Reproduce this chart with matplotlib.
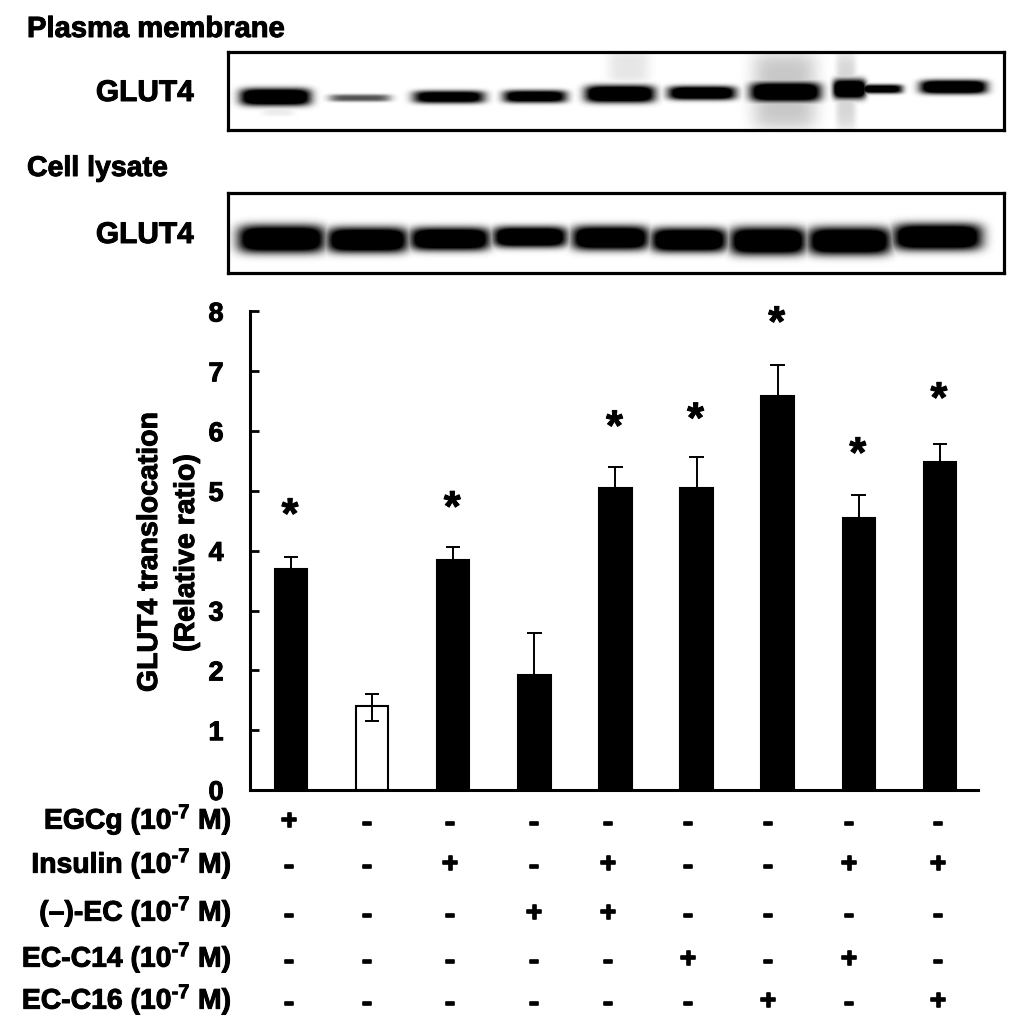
import numpy as np
import matplotlib
matplotlib.use("Agg")
import matplotlib.pyplot as plt
import matplotlib.patheffects as pe

plt.rcParams['font.family'] = ['Liberation Sans', 'DejaVu Sans']
plt.rcParams['font.weight'] = 'bold'
plt.rcParams['mathtext.fontset'] = 'custom'
plt.rcParams['mathtext.rm'] = 'Liberation Sans:bold'
plt.rcParams['mathtext.bf'] = 'Liberation Sans:bold'
plt.rcParams['mathtext.default'] = 'bf'

# ---- data ----
bar_values = [3.70, 1.40, 3.85, 1.93, 5.05, 5.05, 6.58, 4.55, 5.48]
err_top = [3.90, 1.60, 4.07, 2.62, 5.40, 5.57, 7.10, 4.93, 5.78]
err_bottom = [3.70, 1.15, 3.85, 1.93, 5.05, 5.05, 6.58, 4.55, 5.48]
bar_colors = ['black', 'white', 'black', 'black', 'black', 'black', 'black', 'black', 'black']
star_groups = [0, 2, 4, 5, 6, 7, 8]
star_values = [4.64, 4.76, 6.11, 6.24, 7.85, 5.66, 6.58]
y_ticks = [0, 1, 2, 3, 4, 5, 6, 7, 8]

treatments = ['EGCg', 'Insulin', '(–)-EC', 'EC-C14', 'EC-C16']
treatment_rows = ['+--------', '--+-+--++', '---++----', '-----+-+-', '------+-+']
treatment_row_px = [822, 865, 914, 960, 1002]
treatment_label_px = [820, 864, 912, 958, 1000]
treatment_col_px = [289, 367, 450, 534, 608, 688, 768, 849, 938]

# bands: left, right, centre y, half height, strength (pixels of the figure)
membrane_bands = [
    (240, 311, 97, 7.5, 1.0), (329, 391, 98, 3.2, 0.45), (413, 485, 97, 5.5, 0.85),
    (503, 567, 96.5, 5.5, 0.85), (585, 655, 94, 7.5, 1.0), (668, 736, 93, 6, 0.95),
    (750, 821, 92, 8.5, 1.0), (833, 866, 89, 8.5, 1.0), (860, 903, 89, 4, 0.8),
    (920, 987, 87, 6, 1.0),
]
membrane_smears = [
    (608, 650, 52, 82, 0.10), (752, 817, 52, 130, 0.22), (836, 856, 52, 130, 0.16),
    (262, 294, 100, 116, 0.08),
]
lysate_bands = [
    (238, 325, 239, 12, 1.0), (327, 408, 240, 11, 1.0), (410, 490, 239, 10, 1.0),
    (493, 567, 237, 9, 1.0), (572, 649, 238, 10.5, 1.0), (651, 727, 240, 10.5, 1.0),
    (730, 806, 241, 12, 1.0), (808, 891, 241, 12, 1.0), (893, 982, 237, 11.5, 1.0),
]

W, H = 1024, 1033
fig = plt.figure(figsize=(W / 100, H / 100), dpi=100, facecolor='white')
heavy = [pe.withStroke(linewidth=0.7, foreground='black')]
heavier = [pe.withStroke(linewidth=1.2, foreground='black')]


def axes_px(x0, y0, x1, y1, **kw):
    return fig.add_axes([x0 / W, 1 - y1 / H, (x1 - x0) / W, (y1 - y0) / H], **kw)


def blot(x0, y0, x1, y1, bands, smears=()):
    ax = axes_px(x0, y0, x1, y1)
    xs = np.arange(x0, x1) + 0.5
    ys = np.arange(y0, y1) + 0.5
    X, Y = np.meshgrid(xs, ys)
    dark = np.zeros_like(X)
    for l, r, t, b, s in smears:
        cx, hw = (l + r) / 2, (r - l) / 2
        cy, hh = (t + b) / 2, (b - t) / 2
        dark += s * np.exp(-np.abs((X - cx) / hw) ** 4) * np.exp(-np.abs((Y - cy) / hh) ** 6)
    for l, r, cy, hh, s in bands:
        cx, hw = (l + r) / 2, (r - l) / 2
        prof = np.exp(-np.abs((X - cx) / hw) ** 6) * np.exp(-np.abs((Y - cy) / (hh * 1.15)) ** 3)
        dark = np.maximum(dark, np.clip(1.5 * s * prof, 0, 1))
    ax.imshow(1 - np.clip(dark, 0, 1), cmap='gray', vmin=0, vmax=1, aspect='auto',
              extent=(x0, x1, y1, y0), interpolation='bilinear')
    ax.set_xticks([])
    ax.set_yticks([])
    for sp in ax.spines.values():
        sp.set_linewidth(2.3)
        sp.set_color('black')
    return ax


blot(228, 52, 1004, 130, membrane_bands, membrane_smears)
blot(228, 193, 1004, 273, lysate_bands)

# bar chart
ax = axes_px(250, 311.5, 978, 790)
ax.set_xlim(-0.505, 8.47)
ax.set_ylim(0, 8)
pos = np.arange(len(bar_values))
ax.bar(pos, bar_values, width=0.40, color=bar_colors, edgecolor='black', linewidth=1.5, zorder=2)
ax.vlines(pos, err_bottom, err_top, color='black', linewidth=1.4, zorder=1)
ax.hlines(err_top, pos - 0.09, pos + 0.09, color='black', linewidth=1.4, zorder=1)
ax.hlines(err_bottom[1], pos[1] - 0.09, pos[1] + 0.09, color='black', linewidth=1.4, zorder=3)
ax.vlines(pos[1], err_bottom[1], bar_values[1], color='black', linewidth=1.4, zorder=3)
for sp in ('top', 'right'):
    ax.spines[sp].set_visible(False)
for sp in ('left', 'bottom'):
    ax.spines[sp].set_linewidth(2.2)
ax.set_xticks([])
ax.set_yticks(y_ticks)
ax.tick_params(axis='y', direction='in', length=6.5, width=2, pad=19, labelsize=19.5)
for lab in ax.get_yticklabels():
    lab.set_path_effects(heavy)
for g, v in zip(star_groups, star_values):
    ax.text(g - 0.012, v, '*', ha='center', va='center_baseline', fontsize=31, color='black',
            clip_on=False, path_effects=heavy)

# overlay for free text, in figure pixels
ov = axes_px(0, 0, W, H)
ov.set_xlim(0, W)
ov.set_ylim(H, 0)
ov.axis('off')
ov.patch.set_alpha(0)

ov.text(27, 29, 'Plasma membrane', fontsize=21, va='center', ha='left', path_effects=heavy)
ov.text(27, 169, 'Cell lysate', fontsize=20.5, va='center', ha='left', path_effects=heavy)
ov.text(194, 93, 'GLUT4', fontsize=21.5, va='center', ha='right', path_effects=heavy)
ov.text(194, 235, 'GLUT4', fontsize=21.5, va='center', ha='right', path_effects=heavy)
ov.text(150, 552, 'GLUT4 translocation', fontsize=20.5, rotation=90, va='center', ha='center', path_effects=heavy)
ov.text(187, 553, '(Relative ratio)', fontsize=20.5, rotation=90, va='center', ha='center', path_effects=heavy)

for name, row, y, ly in zip(treatments, treatment_rows, treatment_row_px, treatment_label_px):
    ov.text(232, ly, name + r' (10$^{\text{-7}}$ M)', fontsize=20.4, va='center', ha='right', path_effects=heavy)
    for mark, x in zip(row, treatment_col_px):
        ov.text(x, y + (2 if mark == '-' else 0), mark, fontsize=20, va='center', ha='center', path_effects=heavier)

fig.savefig('out.png', dpi=100, facecolor='white')
